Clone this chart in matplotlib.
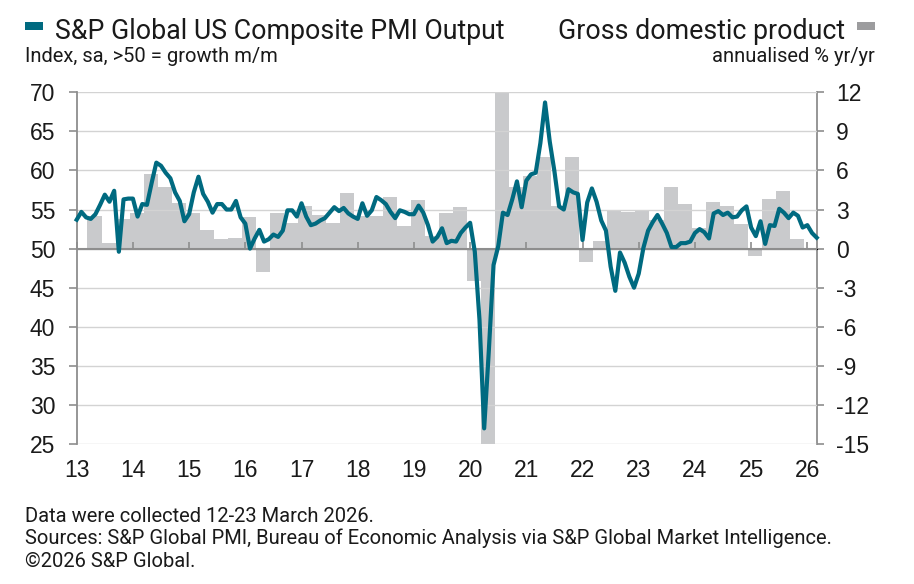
import numpy as np
import pandas as pd
import matplotlib
matplotlib.use("Agg")
import matplotlib.pyplot as plt
from matplotlib.patches import Rectangle

# ---------------- data ----------------
pmi_2013 = [53.7, 54.7, 54.0, 53.8, 54.4, 55.6, 56.9, 56.0, 57.4, 49.6, 56.3, 56.4]
pmi_2014 = [56.4, 54.1, 55.7, 55.6, 58.4, 61.0, 60.6, 59.7, 59.0, 57.2, 56.1, 53.5]
pmi_2015 = [54.4, 57.2, 59.2, 57.0, 56.0, 54.6, 55.7, 55.7, 55.0, 55.0, 56.1, 54.0]
pmi_2016 = [53.2, 50.0, 51.3, 52.4, 50.9, 51.2, 51.8, 51.5, 52.3, 54.9, 54.9, 54.1]
pmi_2017 = [55.8, 54.1, 53.0, 53.2, 53.6, 53.9, 54.6, 55.3, 54.8, 55.2, 54.5, 54.1]
pmi_2018 = [53.8, 55.8, 54.2, 54.9, 56.6, 56.2, 55.7, 54.7, 53.9, 54.9, 54.7, 54.4]
pmi_2019 = [54.4, 55.5, 54.6, 53.0, 50.9, 51.5, 52.6, 50.7, 51.0, 50.9, 52.0, 52.7]
pmi_2020 = [53.3, 49.6, 40.9, 27.0, 37.0, 47.9, 50.3, 54.6, 54.3, 56.3, 58.6, 55.3]
pmi_2021 = [58.7, 59.5, 59.7, 63.5, 68.7, 63.7, 59.9, 55.4, 55.0, 57.6, 57.2, 57.0]
pmi_2022 = [51.1, 55.9, 57.7, 56.0, 53.6, 52.3, 47.7, 44.6, 49.5, 48.2, 46.4, 45.0]
pmi_2023 = [46.8, 50.1, 52.3, 53.4, 54.3, 53.2, 52.0, 50.2, 50.2, 50.7, 50.7, 50.9]
pmi_2024 = [52.0, 52.5, 52.1, 51.3, 54.5, 54.8, 54.3, 54.6, 54.0, 54.1, 54.9, 55.4]
pmi_2025 = [52.7, 51.6, 53.5, 50.6, 53.0, 52.9, 55.1, 54.6, 53.9, 54.6, 54.2, 52.7]
pmi_2026 = [53.0, 52.0, 51.4]
pmi = (pmi_2013 + pmi_2014 + pmi_2015 + pmi_2016 + pmi_2017 + pmi_2018 + pmi_2019
       + pmi_2020 + pmi_2021 + pmi_2022 + pmi_2023 + pmi_2024 + pmi_2025 + pmi_2026)
months = pd.period_range("2013-01", periods=len(pmi), freq="M")

# GDP, annualised % (quarterly), from 2013 Q2
gdp = [2.5, 0.4, 2.3,
       2.7, 5.7, 4.7, 3.5,
       2.7, 1.4, 0.7, 0.8,
       2.4, -1.8, 2.7, 2.0,
       3.3, 2.6, 2.0, 4.3,
       2.5, 2.5, 4.0, 1.7,
       3.7, 0.95, 2.7, 3.2,
       -2.5, -28.0, 35.3, 4.7,
       5.6, 7.0, 3.3, 7.0,
       -1.0, 0.6, 2.9, 2.8,
       2.9, 2.2, 4.7, 3.4,
       1.6, 3.6, 3.3, 1.9,
       -0.6, 3.8, 4.4, 0.7]
quarters = pd.period_range("2013Q2", periods=len(gdp), freq="Q")

year_labels = ["13", "14", "15", "16", "17", "18", "19", "20", "21", "22", "23", "24", "25", "26"]
left_ticks = [25, 30, 35, 40, 45, 50, 55, 60, 65, 70]
right_ticks = [-15, -12, -9, -6, -3, 0, 3, 6, 9, 12]

# ---------------- styling ----------------
W, H = 914, 584
TEAL = "#006A80"
BAR = "#C9CACC"
GRID = "#D3D3D3"
AXC = "#8E8E8E"
TXT = "#1a1a1a"
TFONT = ["Roboto", "DejaVu Sans"]
NFONT = ["Liberation Sans", "DejaVu Sans"]
NSIZE = 16.5
SMALL = 14.5
BIG = 19.3

fig = plt.figure(figsize=(W / 100, H / 100), dpi=100)
fig.patch.set_facecolor("white")

def fx(px):
    return px / W

def fy(py):
    return 1 - py / H

ax_left, ax_right, ax_top, ax_bot = 76.7, 816.7, 92.3, 444.0
ax = fig.add_axes([fx(ax_left), fy(ax_bot), fx(ax_right - ax_left), (ax_bot - ax_top) / H])
ax2 = ax.twinx()

# bars on right axis (behind)
x_month = np.arange(len(pmi))
q_start = (quarters.year - 2013) * 12 + (quarters.quarter - 1) * 3
ax2.bar(q_start - 0.7, gdp, width=3.0, align="edge", color=BAR, linewidth=0, zorder=1)
ax2.set_ylim(-15, 12)
ax2.set_yticks(right_ticks)

# line axis on top
ax.set_zorder(ax2.get_zorder() + 1)
ax.patch.set_visible(False)
ax.set_ylim(25, 70)
ax.set_xlim(0, len(pmi) - 1)
ax.set_yticks(left_ticks)
for v in left_ticks:
    if v != 50:
        ax.axhline(v, color=GRID, lw=1.0, zorder=1)
ax.axhline(50, color=AXC, lw=1.5, zorder=2)
ax.plot(x_month, pmi, color=TEAL, lw=3.0, solid_joinstyle="round", zorder=3, clip_on=False)

year_pos = [12 * i for i in range(len(year_labels))]
ax.set_xticks(year_pos)
ax.set_xticklabels(year_labels)
ax.tick_params(axis="x", length=0, pad=11, labelsize=NSIZE, labelcolor=TXT)
for lab in ax.get_xticklabels():
    lab.set_fontfamily(NFONT)

# ticks at the 50 line
sec = ax.secondary_xaxis((50 - 25) / (70 - 25))
sec.set_xticks(year_pos)
sec.set_xticklabels([])
sec.tick_params(axis="x", direction="out", length=5, width=1.2, color=AXC)
sec.spines["bottom"].set_visible(False)

for a in (ax, ax2):
    a.spines["top"].set_visible(False)
    a.spines["bottom"].set_visible(False)
ax.spines["right"].set_visible(False)
ax2.spines["left"].set_visible(False)
ax.spines["left"].set_color(AXC)
ax.spines["left"].set_linewidth(1.3)
ax2.spines["right"].set_color(AXC)
ax2.spines["right"].set_linewidth(1.3)
ax.tick_params(axis="y", direction="out", length=5.5, width=1.2, color=AXC, pad=10,
               labelsize=NSIZE, labelcolor=TXT)
ax2.tick_params(axis="y", direction="out", length=5, width=1.2, color=AXC, pad=9,
                labelsize=NSIZE, labelcolor=TXT)
for lab in ax.get_yticklabels() + ax2.get_yticklabels():
    lab.set_fontfamily(NFONT)
ax2.set_yticklabels([str(v) for v in right_ticks])

# ---------------- titles ----------------
fig.add_artist(Rectangle((fx(25), fy(30)), fx(43) - fx(25), 8 / H,
                         transform=fig.transFigure, color=TEAL, lw=0))
fig.text(fx(55), fy(39), "S&P Global US Composite PMI Output", fontsize=BIG,
         family=TFONT, color=TXT, ha="left", va="baseline")
fig.text(fx(25), fy(62), "Index, sa, >50 = growth m/m", fontsize=SMALL,
         family=TFONT, color=TXT, ha="left", va="baseline")

fig.add_artist(Rectangle((fx(857), fy(29.5)), fx(875) - fx(857), 8 / H,
                         transform=fig.transFigure, color="#9C9C9E", lw=0))
fig.text(fx(845), fy(39), "Gross domestic product", fontsize=BIG,
         family=TFONT, color=TXT, ha="right", va="baseline")
fig.text(fx(875), fy(62), "annualised % yr/yr", fontsize=SMALL,
         family=TFONT, color=TXT, ha="right", va="baseline")

# ---------------- footer ----------------
fig.text(fx(25), fy(522), "Data were collected 12-23 March 2026.", fontsize=SMALL,
         family=TFONT, color=TXT, ha="left", va="baseline")
fig.text(fx(25), fy(544), "Sources: S&P Global PMI, Bureau of Economic Analysis via S&P Global Market Intelligence.",
         fontsize=SMALL, family=TFONT, color=TXT, ha="left", va="baseline")
fig.text(fx(25), fy(567), "\u00a92026 S&P Global.", fontsize=SMALL,
         family=TFONT, color=TXT, ha="left", va="baseline")

fig.savefig("out.png", dpi=100, facecolor="white")
